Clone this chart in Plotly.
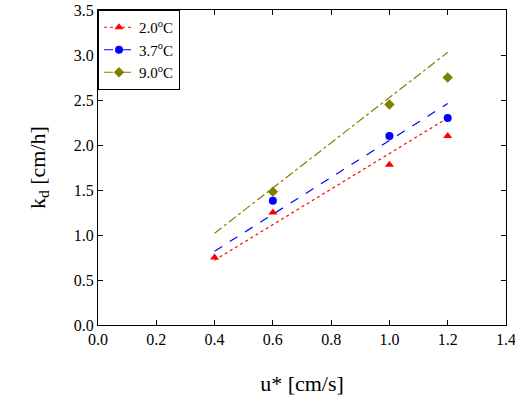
import plotly.graph_objects as go

# measured points
x_20 = [0.4, 0.6, 1.0, 1.2]
k_20 = [0.75, 1.25, 1.78, 2.10]
x_37 = [0.6, 1.0, 1.2]
k_37 = [1.38, 2.10, 2.30]
x_90 = [0.6, 1.0, 1.2]
k_90 = [1.48, 2.45, 2.75]

# fitted lines (end points)
fit_x = [0.4, 1.2]
fit_20 = [0.72, 2.30]
fit_37 = [0.82, 2.46]
fit_90 = [1.02, 3.03]

series = [
    ("2.0<sup>o</sup>C", x_20, k_20, fit_20, "red", "triangle-up", "dot"),
    ("3.7<sup>o</sup>C", x_37, k_37, fit_37, "blue", "circle", "dash"),
    ("9.0<sup>o</sup>C", x_90, k_90, fit_90, "olive", "diamond", "dashdot"),
]

SERIF = "Liberation Serif, Times New Roman, serif"

fig = go.Figure()
for name, xs, ys, fy, col, sym, dash in series:
    fig.add_trace(go.Scatter(x=fit_x, y=fy, mode="lines", line=dict(color=col, dash=dash, width=1.2),
                             showlegend=False, hoverinfo="skip"))
    fig.add_trace(go.Scatter(x=xs, y=ys, mode="markers", showlegend=False,
                             marker=dict(color=col, symbol=sym, size=8)))
    # legend entry showing marker and line style
    fig.add_trace(go.Scatter(x=[None], y=[None], mode="lines+markers", name=name,
                             marker=dict(color=col, symbol=sym, size=8),
                             line=dict(color=col, dash=dash, width=1.2)))

axis = dict(showgrid=False, zeroline=False, showline=True, linecolor="black", mirror="ticks",
            ticks="inside", ticklen=5, tickcolor="black", ticklabeloverflow="allow",
            tickfont=dict(size=16, family=SERIF, color="black"), automargin=False)
fig.update_layout(
    width=515, height=406,
    margin=dict(l=98, r=9, t=10, b=81),
    paper_bgcolor="white", plot_bgcolor="white",
    font=dict(family=SERIF, color="black"),
    xaxis=dict(axis, range=[0, 1.4], dtick=0.2, tickformat=".1f",
               title=dict(text="u* [cm/s]", font=dict(size=22, family=SERIF), standoff=28)),
    yaxis=dict(axis, range=[0, 3.5], dtick=0.5, tickformat=".1f",
               title=dict(text="k<sub>d</sub> [cm/h]", font=dict(size=22, family=SERIF), standoff=22)),
    legend=dict(x=0.0, y=1.0, xanchor="left", yanchor="top", bgcolor="white",
                bordercolor="black", borderwidth=1, font=dict(size=15, family=SERIF), tracegroupgap=0),
)
# remove the page margin so the 515x406 figure fits the window without scrollbars
fig.write_html("out.html", config={"displayModeBar": False},
               post_script="document.body.style.margin='0';document.body.style.overflow='hidden';")
